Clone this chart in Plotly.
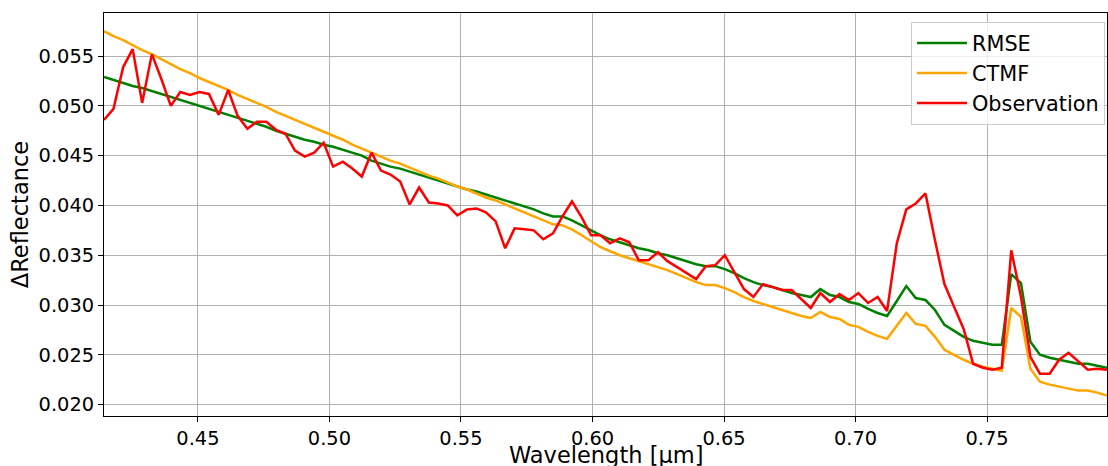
import plotly.graph_objects as go

wavelength = [
    0.4143, 0.4179, 0.4216, 0.4252, 0.4288, 0.4325, 0.4361, 0.4397, 0.4433, 0.4470,
    0.4506, 0.4542, 0.4579, 0.4615, 0.4651, 0.4688, 0.4724, 0.4760, 0.4797, 0.4833,
    0.4869, 0.4906, 0.4942, 0.4978, 0.5014, 0.5051, 0.5087, 0.5123, 0.5160, 0.5196,
    0.5232, 0.5269, 0.5305, 0.5341, 0.5378, 0.5414, 0.5450, 0.5486, 0.5523, 0.5559,
    0.5595, 0.5632, 0.5668, 0.5704, 0.5741, 0.5777, 0.5813, 0.5850, 0.5886, 0.5922,
    0.5959, 0.5995, 0.6031, 0.6067, 0.6104, 0.6140, 0.6176, 0.6213, 0.6249, 0.6285,
    0.6322, 0.6358, 0.6394, 0.6431, 0.6467, 0.6503, 0.6539, 0.6576, 0.6612, 0.6648,
    0.6685, 0.6721, 0.6757, 0.6794, 0.6830, 0.6866, 0.6903, 0.6939, 0.6975, 0.7011,
    0.7048, 0.7084, 0.7120, 0.7157, 0.7193, 0.7229, 0.7266, 0.7302, 0.7338, 0.7375,
    0.7411, 0.7447, 0.7484, 0.7520, 0.7556, 0.7592, 0.7629, 0.7665, 0.7701, 0.7738,
    0.7774, 0.7810, 0.7847, 0.7883, 0.7919, 0.7956,
]

rmse = [
    0.0529, 0.0526, 0.0523, 0.0520, 0.0518, 0.0515, 0.0512, 0.0509, 0.0506, 0.0503,
    0.0500, 0.0497, 0.0494, 0.0491, 0.0488, 0.0485, 0.0482, 0.0479, 0.0475, 0.0472,
    0.0469, 0.0466, 0.0464, 0.0461, 0.0459, 0.0456, 0.0453, 0.0450, 0.0445, 0.0442,
    0.0439, 0.0437, 0.0434, 0.0431, 0.0428, 0.0425, 0.0422, 0.0419, 0.0416, 0.0414,
    0.0411, 0.0408, 0.0405, 0.0402, 0.0399, 0.0396, 0.0392, 0.0389, 0.0389, 0.0385,
    0.0380, 0.0375, 0.0370, 0.0366, 0.0363, 0.0360, 0.0357, 0.0355, 0.0352, 0.0350,
    0.0347, 0.0344, 0.0341, 0.0339, 0.0339, 0.0336, 0.0332, 0.0327, 0.0323, 0.0320,
    0.0318, 0.0315, 0.0312, 0.0310, 0.0308, 0.0316, 0.0310, 0.0308, 0.0303, 0.0301,
    0.0296, 0.0292, 0.0289, 0.0304, 0.0319, 0.0307, 0.0305, 0.0295, 0.0280, 0.0274,
    0.0268, 0.0264, 0.0262, 0.0260, 0.0260, 0.0331, 0.0322, 0.0263, 0.0250, 0.0247,
    0.0245, 0.0243, 0.0241, 0.0241, 0.0239, 0.0237,
]

ctmf = [
    0.0575, 0.0570, 0.0566, 0.0561, 0.0556, 0.0552, 0.0547, 0.0542, 0.0537, 0.0533,
    0.0528, 0.0524, 0.0520, 0.0516, 0.0511, 0.0507, 0.0503, 0.0499, 0.0494, 0.0490,
    0.0486, 0.0482, 0.0478, 0.0474, 0.0470, 0.0466, 0.0461, 0.0457, 0.0453, 0.0449,
    0.0445, 0.0442, 0.0438, 0.0434, 0.0430, 0.0427, 0.0423, 0.0419, 0.0416, 0.0412,
    0.0408, 0.0405, 0.0401, 0.0397, 0.0393, 0.0389, 0.0385, 0.0381, 0.0380, 0.0376,
    0.0370, 0.0364, 0.0358, 0.0354, 0.0350, 0.0347, 0.0344, 0.0341, 0.0338, 0.0335,
    0.0331, 0.0327, 0.0323, 0.0320, 0.0320, 0.0317, 0.0313, 0.0308, 0.0304, 0.0301,
    0.0298, 0.0295, 0.0292, 0.0289, 0.0287, 0.0293, 0.0288, 0.0286, 0.0280, 0.0278,
    0.0273, 0.0269, 0.0266, 0.0279, 0.0292, 0.0281, 0.0279, 0.0268, 0.0255, 0.0250,
    0.0245, 0.0241, 0.0238, 0.0236, 0.0234, 0.0297, 0.0288, 0.0236, 0.0223, 0.0220,
    0.0218, 0.0216, 0.0214, 0.0214, 0.0212, 0.0209,
]

observation = [
    0.0486, 0.0497, 0.0539, 0.0557, 0.0503, 0.0552, 0.0527, 0.0500, 0.0514, 0.0511,
    0.0514, 0.0512, 0.0491, 0.0516, 0.0490, 0.0477, 0.0484, 0.0484, 0.0476, 0.0472,
    0.0455, 0.0449, 0.0453, 0.0463, 0.0439, 0.0444, 0.0437, 0.0429, 0.0453, 0.0435,
    0.0431, 0.0424, 0.0401, 0.0418, 0.0403, 0.0402, 0.0400, 0.0390, 0.0396, 0.0397,
    0.0393, 0.0384, 0.0357, 0.0377, 0.0376, 0.0375, 0.0366, 0.0372, 0.0389, 0.0404,
    0.0388, 0.0370, 0.0370, 0.0362, 0.0367, 0.0363, 0.0345, 0.0345, 0.0353, 0.0344,
    0.0338, 0.0332, 0.0326, 0.0339, 0.0340, 0.0350, 0.0333, 0.0316, 0.0308, 0.0321,
    0.0318, 0.0315, 0.0315, 0.0306, 0.0297, 0.0312, 0.0303, 0.0311, 0.0305, 0.0312,
    0.0302, 0.0308, 0.0294, 0.0362, 0.0396, 0.0402, 0.0412, 0.0365, 0.0321, 0.0298,
    0.0276, 0.0241, 0.0237, 0.0235, 0.0237, 0.0355, 0.0308, 0.0248, 0.0231, 0.0231,
    0.0245, 0.0252, 0.0243, 0.0235, 0.0236, 0.0235,
]

series_names = ["RMSE", "CTMF", "Observation"]
series_colors = ["green", "orange", "red"]
x_ticks = [0.45, 0.50, 0.55, 0.60, 0.65, 0.70, 0.75]
y_ticks = [0.020, 0.025, 0.030, 0.035, 0.040, 0.045, 0.050, 0.055]
x_title = "Wavelength [μm]"
y_title = "ΔReflectance"

FONT = "DejaVu Sans"
FS = 19.4      # tick labels
FS_TITLE = 22.5
FS_LEG = 20.8

fig = go.Figure()
for name, vals, col in zip(series_names, [rmse, ctmf, observation], series_colors):
    fig.add_trace(go.Scatter(x=wavelength, y=vals, mode="lines", name=name,
                             line=dict(color=col, width=2.5)))

axis_common = dict(
    showline=True, mirror=True, linecolor="black", linewidth=1.1,
    ticks="outside", ticklen=5, tickwidth=1.1, tickcolor="black",
    showgrid=True, gridcolor="#b0b0b0", gridwidth=1.1,
    zeroline=False, automargin=False,
    tickfont=dict(family=FONT, size=FS, color="black"),
)

fig.update_layout(
    width=1108, height=466,
    margin=dict(l=104, r=1, t=13, b=50),
    paper_bgcolor="white", plot_bgcolor="white",
    font=dict(family=FONT, size=FS, color="black"),
    xaxis=dict(range=[0.4143, 0.7956], tickvals=x_ticks, tickformat=".2f",
               **axis_common),
    yaxis=dict(range=[0.01885, 0.05933], tickvals=y_ticks, tickformat=".3f",
               title=dict(text=y_title, font=dict(family=FONT, size=FS_TITLE), standoff=3),
               **axis_common),
    legend=dict(x=0.998, y=0.978, xanchor="right", yanchor="top",
                bgcolor="rgba(255,255,255,0.8)", bordercolor="#cccccc", borderwidth=1,
                itemwidth=50,
                font=dict(family=FONT, size=FS_LEG, color="black")),
    showlegend=True,
    annotations=[dict(text=x_title, xref="paper", yref="paper", x=0.5, y=-0.06,
                      xanchor="center", yanchor="top", showarrow=False,
                      font=dict(family=FONT, size=FS_TITLE, color="black"))],
)

fig.write_html("out.html", config={"displayModeBar": False},
               post_script="document.body.style.margin='0';document.body.style.overflow='hidden';")
